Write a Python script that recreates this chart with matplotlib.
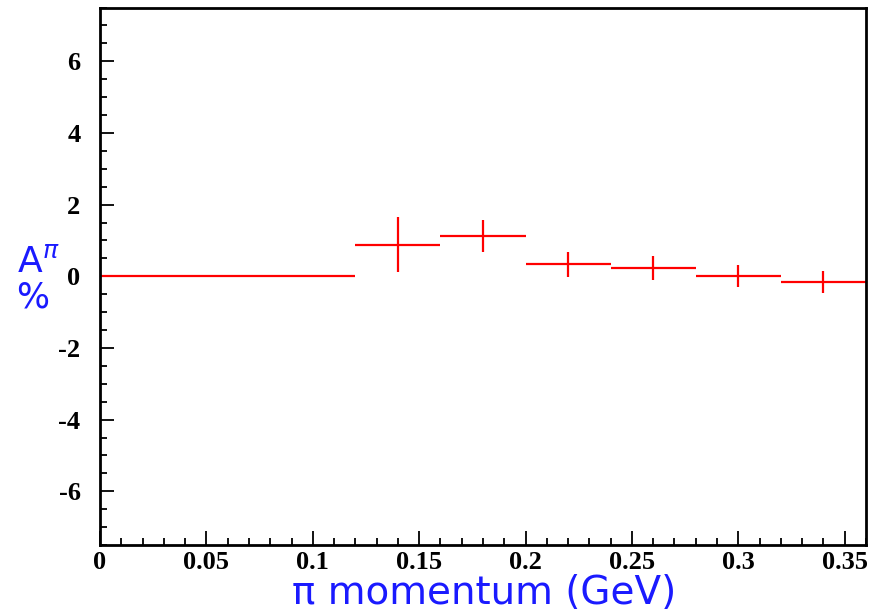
import matplotlib
matplotlib.use("Agg")
import matplotlib.pyplot as plt
from matplotlib.ticker import MultipleLocator, FixedLocator, FixedFormatter

# Data (bin centres, half widths, values, errors)
bin_centers = [0.02, 0.06, 0.10, 0.14, 0.18, 0.22, 0.26, 0.30, 0.34]
bin_halfwidth = [0.02] * 9
values = [0.0, 0.0, 0.0, 0.88, 1.12, 0.34, 0.23, 0.01, -0.15]
errors = [0.0, 0.0, 0.0, 0.76, 0.44, 0.35, 0.33, 0.31, 0.31]

xticks = [0, 0.05, 0.1, 0.15, 0.2, 0.25, 0.3, 0.35]
xticklabels = ["0", "0.05", "0.1", "0.15", "0.2", "0.25", "0.3", "0.35"]
yticks = [-6, -4, -2, 0, 2, 4, 6]
yticklabels = ["-6", "-4", "-2", "0", "2", "4", "6"]

fig = plt.figure(figsize=(8.79, 6.15), dpi=100)
ax = fig.add_axes([100/879, 1-545/615, (866-100)/879, (545-7.5)/615])

ax.errorbar(bin_centers, values, xerr=bin_halfwidth, yerr=errors, fmt='none',
            ecolor='#ff0000', elinewidth=1.6, capsize=0)

ax.set_xlim(0, 0.36)
ax.set_ylim(-7.5, 7.5)

ax.xaxis.set_major_locator(FixedLocator(xticks))
ax.xaxis.set_major_formatter(FixedFormatter(xticklabels))
ax.xaxis.set_minor_locator(MultipleLocator(0.01))
ax.yaxis.set_major_locator(FixedLocator(yticks))
ax.yaxis.set_major_formatter(FixedFormatter(yticklabels))
ax.yaxis.set_minor_locator(MultipleLocator(0.5))

ax.tick_params(which='both', direction='in', top=False, right=False, width=1.3, colors='black')
ax.tick_params(which='major', length=10)
ax.tick_params(which='minor', length=5)
for lab in ax.get_xticklabels() + ax.get_yticklabels():
    lab.set_fontfamily('Liberation Serif')
    lab.set_fontweight('bold')
    lab.set_fontsize(19)
ax.tick_params(axis='x', pad=4)
ax.tick_params(axis='y', pad=14)

for s in ax.spines.values():
    s.set_linewidth(2)
    s.set_color('black')

fig.text(484/879, 1-604/615, "π momentum (GeV)", color='#1a1aff', fontsize=28,
         ha='center', va='baseline', family='DejaVu Sans')
fig.text(38/879, 1-262/615, r"A$^{\pi}$", color='#1a1aff', fontsize=26,
         ha='center', va='center', family='DejaVu Sans')
fig.text(33/879, 1-297/615, "%", color='#1a1aff', fontsize=25,
         ha='center', va='center', family='DejaVu Sans')

fig.savefig("out.png", dpi=100)
